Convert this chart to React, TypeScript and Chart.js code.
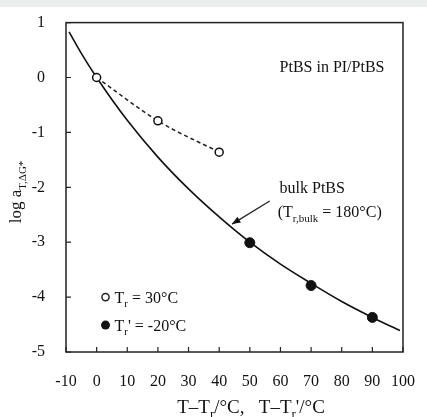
import React, { useEffect, useRef } from "react";
import { Chart, registerables } from "chart.js";
Chart.register(...registerables);

// bulk PtBS master curve
const bulkX = [-9, -5, 0, 10, 20, 30, 40, 50, 60, 70, 80, 90, 99];
const bulkY = [0.83, 0.44, 0, -0.78, -1.45, -2.03, -2.54, -3.0, -3.4, -3.75, -4.08, -4.37, -4.61];
// PtBS in PI/PtBS, Tr = 30°C (open circles)
const openX = [0, 20, 40];
const openY = [0, -0.79, -1.36];
// Tr' = -20°C (filled circles)
const filledX = [50, 70, 90];
const filledY = [-3.01, -3.79, -4.37];
// axis ticks
const xTicks = [-10, 0, 10, 20, 30, 40, 50, 60, 70, 80, 90, 100];
const yTicks = [-5, -4, -3, -2, -1, 0, 1];

const SERIF = "'Liberation Serif', 'Times New Roman', serif";

type Part = { t: string; sub?: boolean };

function richWidth(ctx: CanvasRenderingContext2D, parts: Part[], size: number, subSize: number) {
  let w = 0;
  for (const p of parts) {
    ctx.font = `${p.sub ? subSize : size}px ${SERIF}`;
    w += ctx.measureText(p.t).width;
  }
  return w;
}

function drawRich(
  ctx: CanvasRenderingContext2D,
  parts: Part[],
  x: number,
  y: number,
  size: number,
  subSize: number,
  align: "left" | "center"
) {
  const w = richWidth(ctx, parts, size, subSize);
  let cx = align === "center" ? x - w / 2 : x;
  ctx.textAlign = "left";
  ctx.textBaseline = "alphabetic";
  for (const p of parts) {
    ctx.font = `${p.sub ? subSize : size}px ${SERIF}`;
    ctx.fillText(p.t, cx, p.sub ? y + size * 0.28 : y);
    cx += ctx.measureText(p.t).width;
  }
}

const decorPlugin = {
  id: "decor",
  afterDraw(chart: any) {
    const ctx: CanvasRenderingContext2D = chart.ctx;
    const { left, right, top, bottom } = chart.chartArea;
    const xs = chart.scales.x;
    const ys = chart.scales.y;
    ctx.save();
    ctx.fillStyle = "#111";
    ctx.strokeStyle = "#222";
    // frame
    ctx.lineWidth = 1.5;
    ctx.strokeRect(left, top, right - left, bottom - top);
    // inward ticks
    ctx.lineWidth = 1.2;
    ctx.beginPath();
    for (const v of xTicks) {
      const px = xs.getPixelForValue(v);
      ctx.moveTo(px, bottom);
      ctx.lineTo(px, bottom - 5);
    }
    for (const v of yTicks) {
      const py = ys.getPixelForValue(v);
      ctx.moveTo(left, py);
      ctx.lineTo(left + 5, py);
    }
    ctx.stroke();

    // annotations
    drawRich(ctx, [{ t: "PtBS in PI/PtBS" }], xs.getPixelForValue(59.7), ys.getPixelForValue(0.1), 16, 11, "left");
    drawRich(ctx, [{ t: "bulk PtBS" }], xs.getPixelForValue(59.7), ys.getPixelForValue(-2.1), 16, 11, "left");
    drawRich(
      ctx,
      [{ t: "(T" }, { t: "r,bulk", sub: true }, { t: " = 180°C)" }],
      xs.getPixelForValue(59.1),
      ys.getPixelForValue(-2.55),
      16,
      11,
      "left"
    );
    // arrow
    const ax0 = xs.getPixelForValue(56.5), ay0 = ys.getPixelForValue(-2.25);
    const ax1 = xs.getPixelForValue(44.2), ay1 = ys.getPixelForValue(-2.67);
    ctx.lineWidth = 1.3;
    ctx.beginPath();
    ctx.moveTo(ax0, ay0);
    ctx.lineTo(ax1, ay1);
    ctx.stroke();
    const ang = Math.atan2(ay1 - ay0, ax1 - ax0);
    ctx.beginPath();
    ctx.moveTo(ax1, ay1);
    ctx.lineTo(ax1 - 9 * Math.cos(ang - 0.38), ay1 - 9 * Math.sin(ang - 0.38));
    ctx.lineTo(ax1 - 9 * Math.cos(ang + 0.38), ay1 - 9 * Math.sin(ang + 0.38));
    ctx.closePath();
    ctx.fill();

    // legend
    const lx = xs.getPixelForValue(2.9);
    const l1 = ys.getPixelForValue(-4.0);
    const l2 = ys.getPixelForValue(-4.51);
    ctx.lineWidth = 1.5;
    ctx.beginPath();
    ctx.arc(lx, l1, 3.6, 0, Math.PI * 2);
    ctx.fillStyle = "#fff";
    ctx.fill();
    ctx.stroke();
    ctx.fillStyle = "#111";
    ctx.beginPath();
    ctx.arc(lx, l2, 4.5, 0, Math.PI * 2);
    ctx.fill();
    drawRich(ctx, [{ t: "T" }, { t: "r", sub: true }, { t: " = 30°C" }], lx + 9, l1 + 5.5, 16, 11, "left");
    drawRich(ctx, [{ t: "T" }, { t: "r", sub: true }, { t: "' = -20°C" }], lx + 9, l2 + 5.5, 16, 11, "left");

    // x title
    drawRich(
      ctx,
      [{ t: "T–T" }, { t: "r", sub: true }, { t: "/°C,   T–T" }, { t: "r", sub: true }, { t: "'/°C" }],
      251,
      413,
      19,
      13,
      "center"
    );
    // y title
    ctx.save();
    ctx.translate(21, 192);
    ctx.rotate(-Math.PI / 2);
    drawRich(ctx, [{ t: "log a" }, { t: "T,ΔG*", sub: true }], 0, 0, 17, 11, "center");
    ctx.restore();
    ctx.restore();
  },
};

export default function App() {
  const ref = useRef<HTMLCanvasElement | null>(null);
  useEffect(() => {
    if (!ref.current) return;
    const pts = (xs: number[], ys: number[]) => xs.map((x, i) => ({ x, y: ys[i] }));
    const chart = new Chart(ref.current, {
      type: "line",
      data: {
        datasets: [
          {
            data: pts(filledX, filledY),
            showLine: false,
            pointRadius: 5,
            pointBackgroundColor: "#111",
            pointBorderColor: "#111",
            order: 0,
          } as any,
          {
            data: pts(openX, openY),
            showLine: false,
            pointRadius: 4,
            pointBorderWidth: 1.5,
            pointBackgroundColor: "#fff",
            pointBorderColor: "#111",
            order: 0,
          } as any,
          {
            data: pts(openX, openY),
            borderColor: "#222",
            borderWidth: 1.5,
            borderDash: [4, 3],
            pointRadius: 0,
            cubicInterpolationMode: "monotone",
            order: 1,
          } as any,
          {
            data: pts(bulkX, bulkY),
            borderColor: "#111",
            borderWidth: 1.6,
            pointRadius: 0,
            cubicInterpolationMode: "monotone",
            order: 1,
          } as any,
        ],
      },
      options: {
        animation: false,
        responsive: false,
        devicePixelRatio: 1,
        layout: { padding: { top: 22, right: 14, left: 0, bottom: 0 } },
        plugins: { legend: { display: false }, tooltip: { enabled: false } },
        scales: {
          x: {
            type: "linear",
            min: -10,
            max: 100,
            afterFit: (s: any) => {
              s.height = 65;
            },
            afterBuildTicks: (s: any) => {
              s.ticks = xTicks.map((v) => ({ value: v }));
            },
            grid: { display: false },
            border: { display: false },
            ticks: {
              padding: 12,
              color: "#111",
              font: { family: SERIF, size: 16 },
              maxRotation: 0,
              callback: (v: any) => String(v),
            },
          },
          y: {
            type: "linear",
            min: -5,
            max: 1,
            afterFit: (s: any) => {
              s.width = 66;
            },
            afterBuildTicks: (s: any) => {
              s.ticks = yTicks.map((v) => ({ value: v }));
            },
            grid: { display: false },
            border: { display: false },
            ticks: {
              padding: 13,
              color: "#111",
              font: { family: SERIF, size: 16 },
              callback: (v: any) => String(v),
            },
          },
        },
      },
      plugins: [decorPlugin],
    } as any);
    return () => chart.destroy();
  }, []);
  return (
    <div style={{ position: "fixed", left: 0, top: 0, width: 427, height: 417, background: "#fff" }}>
      <div style={{ position: "absolute", left: 0, top: 0, width: 427, height: 7, background: "#eceeee" }} />
      <canvas ref={ref} width={427} height={417} style={{ position: "absolute", left: 0, top: 0 }} />
    </div>
  );
}
